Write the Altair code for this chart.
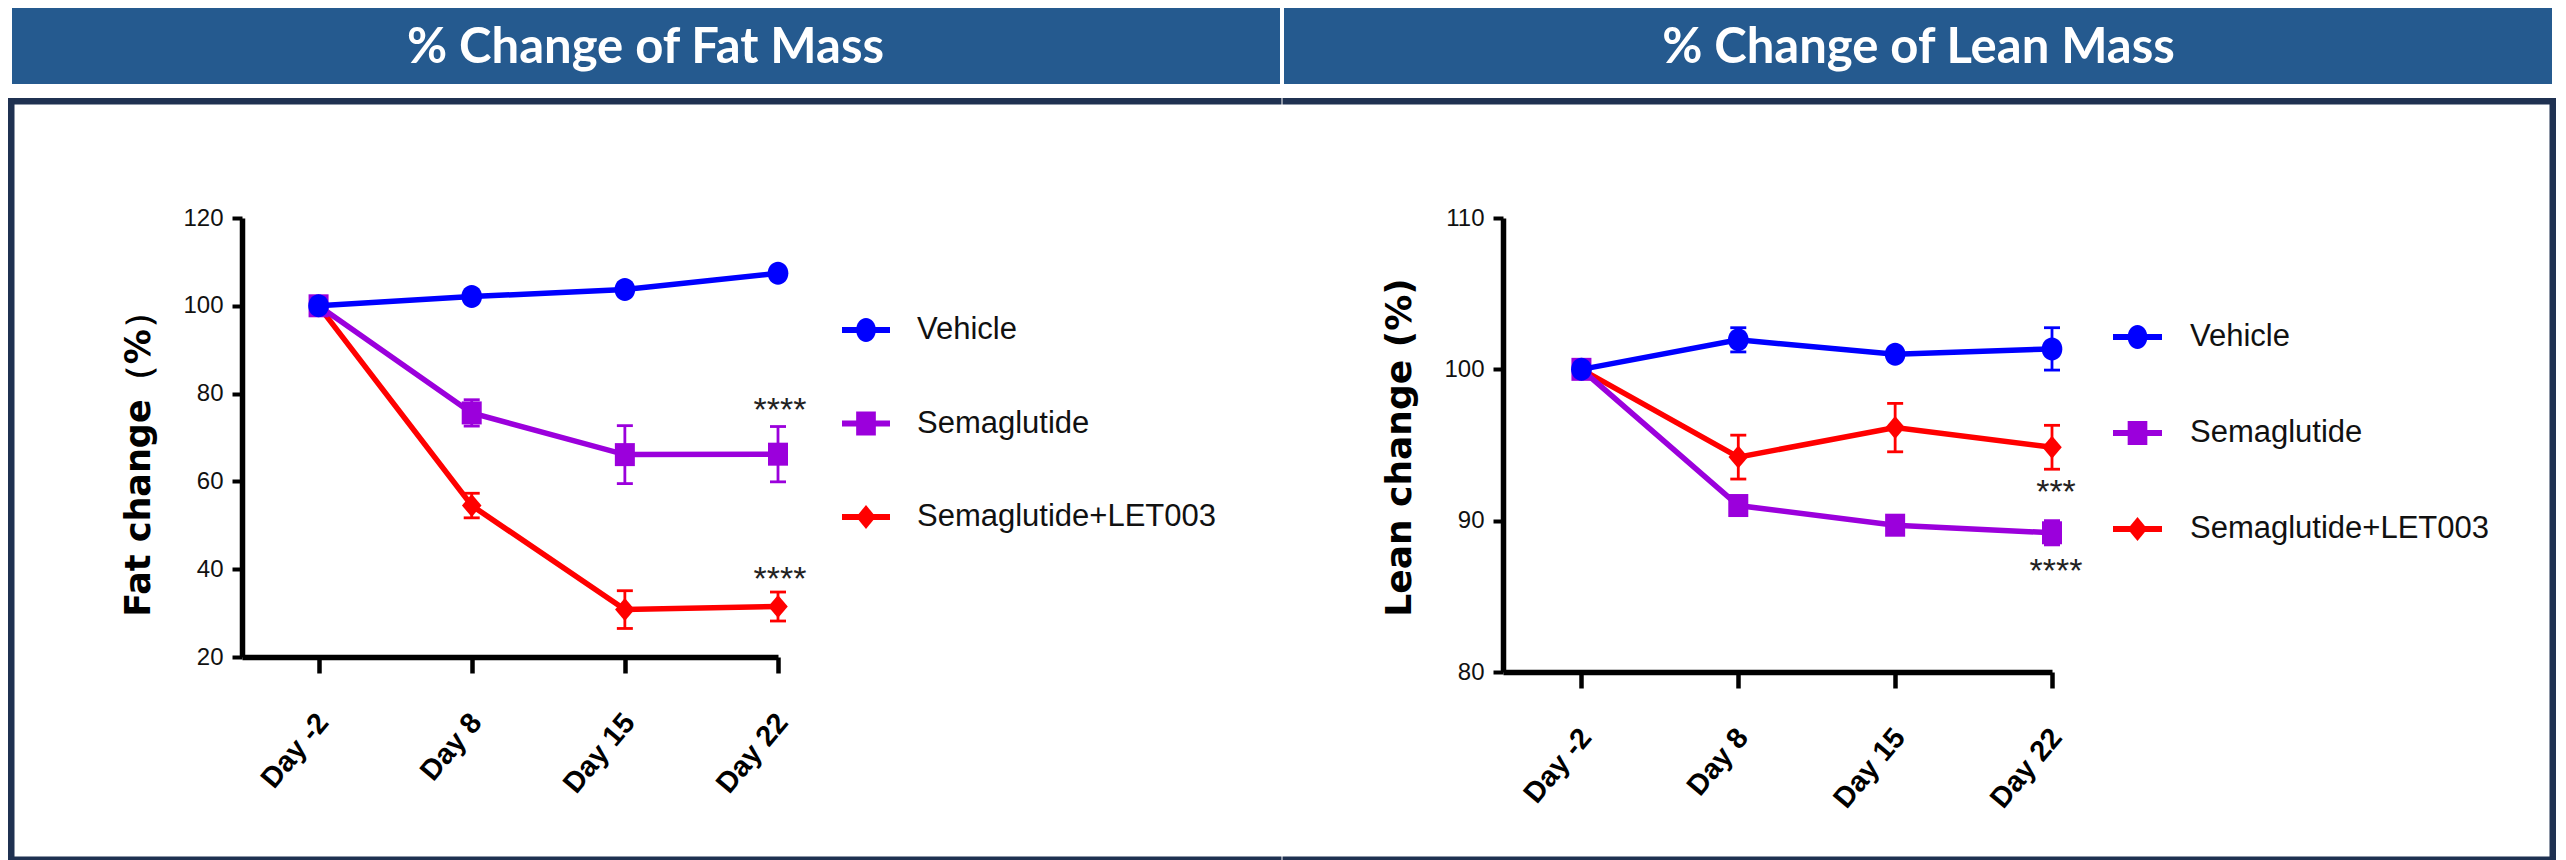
import altair as alt
import pandas as pd

# ---------------- data ----------------
days = ["Day -2", "Day 8", "Day 15", "Day 22"]
series = ["Vehicle", "Semaglutide", "Semaglutide+LET003"]
colors = ["#0000FF", "#9B00DC", "#FF0000"]

fat_vehicle = [100.0, 102.1, 103.7, 107.4]
fat_vehicle_err = [0.9, 0.9, 0.9, 0.9]
fat_sema = [100.0, 75.6, 66.1, 66.2]
fat_sema_err = [0.9, 3.0, 6.6, 6.3]
fat_combo = [100.0, 54.5, 30.8, 31.5]
fat_combo_err = [0.9, 2.8, 4.3, 3.3]

lean_vehicle = [100.0, 101.95, 101.0, 101.35]
lean_vehicle_err = [0.3, 0.8, 0.3, 1.4]
lean_sema = [100.0, 91.0, 89.7, 89.2]
lean_sema_err = [0.3, 0.5, 0.4, 0.8]
lean_combo = [100.0, 94.2, 96.15, 94.85]
lean_combo_err = [0.3, 1.45, 1.6, 1.45]

fat_stars = ["****", "****"]
fat_star_day = [3, 3]
fat_star_y = [78.0, 39.5]
lean_stars = ["***", "****"]
lean_star_day = [3, 3]
lean_star_y = [92.4, 87.2]

panel_titles = ["% Change of Fat Mass", "% Change of Lean Mass"]
y_titles = ["Fat change\uff08%\uff09", "Lean change (%)"]
fat_ticks = [20, 40, 60, 80, 100, 120]
lean_ticks = [80, 90, 100, 110]

# ---------------- styling ----------------
HEADER = "#255A8F"
FRAME = "#1F3151"
SANS = "Liberation Sans, Arial, sans-serif"

plot_shapes = [
    "M0,-1 A0.9,1 0 1,1 0,1 A0.9,1 0 1,1 0,-1 Z",
    "M-0.87,-1 L0.87,-1 L0.87,1 L-0.87,1 Z",
    "M-0.85,0 L0,-1 L0.85,0 L0,1 Z",
]
legend_shapes = [
    "M0,-1 A0.82,1 0 1,1 0,1 A0.82,1 0 1,1 0,-1 Z",
    "M-0.82,-1 L0.82,-1 L0.82,1 L-0.82,1 Z",
    "M-0.82,0 L0,-1 L0.82,0 L0,1 Z",
]

label_expr = "[" + ",".join("'%s'" % d for d in days) + "][datum.value]"


def box(x1, x2, y1, y2, color):
    return alt.Chart(pd.DataFrame({"k": [0]})).mark_rect(color=color).encode(
        x=alt.value(x1), x2=alt.value(x2), y=alt.value(y1), y2=alt.value(y2))


def data_layers(vals, errs, ydom, yvals, ytitle, tfs, tx, ty,
                stars, star_x, star_y, star_dx):
    xs = alt.Scale(domain=[-0.5, len(days) - 1], nice=False, zero=False)
    ys = alt.Scale(domain=ydom, nice=False, zero=False)
    xaxis = alt.Axis(values=list(range(len(days))), labelExpr=label_expr,
                     grid=False, title=None,
                     domainWidth=5.5, domainColor="black", tickColor="black",
                     tickWidth=4.5, tickSize=16, labelAngle=310,
                     labelAlign="right", labelBaseline="middle", labelPadding=44,
                     labelOffset=4, labelFontWeight="bold",
                     labelFont=SANS, labelFontSize=29, labelColor="#000000",
                     labelOverlap=False, labelBound=False, labelFlush=False)
    yaxis = alt.Axis(values=yvals, grid=False,
                     domainWidth=5.5, domainColor="black", tickColor="black",
                     tickWidth=4, tickSize=10, labelPadding=9,
                     labelFont=SANS, labelFontSize=24, labelColor="#111111",
                     labelOverlap=False, labelBound=False, labelFlush=False,
                     title=ytitle, titleFont="DejaVu Sans", titleFontWeight="bold",
                     titleFontSize=tfs, titleColor="black", titleAngle=270,
                     titleX=tx, titleY=ty, titleAlign="center",
                     titleBaseline="middle")
    X = alt.X("idx:Q", scale=xs, axis=xaxis)
    layers = []
    for i in [2, 1, 0]:
        df = pd.DataFrame({
            "idx": list(range(len(days))),
            "day": days,
            "value": vals[i],
            "lo": [v - e for v, e in zip(vals[i], errs[i])],
            "hi": [v + e for v, e in zip(vals[i], errs[i])],
        })
        c = colors[i]
        base = alt.Chart(df)
        line = base.mark_line(color=c, strokeWidth=5.5).encode(
            x=X, y=alt.Y("value:Q", scale=ys, axis=yaxis))
        eb = base.mark_rule(color=c, strokeWidth=2.8).encode(
            x=X, y=alt.Y("lo:Q", scale=ys, axis=yaxis), y2="hi:Q")
        cap_lo = base.mark_tick(color=c, orient="horizontal", size=16,
                                thickness=2.8, opacity=1).encode(
            x=X, y=alt.Y("lo:Q", scale=ys, axis=yaxis))
        cap_hi = base.mark_tick(color=c, orient="horizontal", size=16,
                                thickness=2.8, opacity=1).encode(
            x=X, y=alt.Y("hi:Q", scale=ys, axis=yaxis))
        pts = base.mark_point(filled=True, color=c, opacity=1, size=529,
                              shape=plot_shapes[i]).encode(
            x=X, y=alt.Y("value:Q", scale=ys, axis=yaxis))
        layers += [line, eb, cap_lo, cap_hi, pts]
    sdf = pd.DataFrame({"label": stars, "idx": star_x, "yv": star_y})
    txt = alt.Chart(sdf).mark_text(font=SANS, fontSize=34, color="#222222",
                                   baseline="alphabetic", align="center",
                                   dy=19, dx=star_dx).encode(
        x=X, y=alt.Y("yv:Q", scale=ys, axis=yaxis), text="label:N")
    layers.append(txt)
    return layers


def legend_layers(x1, x2, xt, ys_px):
    out = []
    for i, s in enumerate(series):
        d = alt.Chart(pd.DataFrame({"series": [s]}))
        y = alt.value(ys_px[i])
        out.append(d.mark_rule(strokeWidth=6, color=colors[i]).encode(
            x=alt.value(x1), x2=alt.value(x2), y=y))
        out.append(d.mark_point(filled=True, opacity=1, size=576, color=colors[i],
                                shape=legend_shapes[i]).encode(
            x=alt.value((x1 + x2) / 2), y=y))
        out.append(d.mark_text(align="left", baseline="middle", font=SANS,
                               fontSize=31, color="#111111").encode(
            x=alt.value(xt), y=y, text="series:N"))
    return out


def header(text, x1, x2, y1, y2, xc, yc):
    d = alt.Chart(pd.DataFrame({"t": [text]}))
    r = d.mark_rect(color=HEADER).encode(
        x=alt.value(x1), x2=alt.value(x2), y=alt.value(y1), y2=alt.value(y2))
    t = d.mark_text(color="white", font="Lato", fontWeight="bold", fontSize=49,
                    align="center", baseline="middle").encode(
        x=alt.value(xc), y=alt.value(yc), text="t:N")
    return [r, t]


# ---------------- left panel (plot origin at page 242,218) ----------------
left_decor = (
    header(panel_titles[0], -230, 1038, -210, -134, 403.5, -170)
    + [box(-234, 1039.5, -120, -113.5, FRAME),
       box(-234, -227.5, -120, 645, FRAME),
       box(-234, 1039.5, 638.5, 645, FRAME)]
)
left = alt.layer(
    *left_decor,
    *data_layers([fat_vehicle, fat_sema, fat_combo],
                 [fat_vehicle_err, fat_sema_err, fat_combo_err],
                 [20, 120], fat_ticks, y_titles[0], 35, -104, 237,
                 fat_stars, fat_star_day, fat_star_y, 2),
    *legend_layers(600, 648, 675, [112, 205.5, 299]),
).properties(width=536, height=439)

# ---------------- right panel (plot origin at page 1502,218) ----------------
right_decor = (
    header(panel_titles[1], -219, 1049, -210, -134, 415.5, -170)
    + [box(-220.5, 1053, -120, -113.5, FRAME),
       box(1046.5, 1053, -120, 645, FRAME),
       box(-220.5, 1053, 638.5, 645, FRAME)]
)
right = alt.layer(
    *right_decor,
    *data_layers([lean_vehicle, lean_sema, lean_combo],
                 [lean_vehicle_err, lean_sema_err, lean_combo_err],
                 [80, 110], lean_ticks, y_titles[1], 36, -104, 229,
                 lean_stars, lean_star_day, lean_star_y, 4),
    *legend_layers(610, 659, 687, [119, 215, 311]),
).properties(width=549, height=454)

chart = alt.hconcat(left, right, spacing=0).properties(
    padding=0, background="white",
).configure_view(stroke=None)

chart.save("out.html", embed_options={"renderer": "svg", "actions": False})
